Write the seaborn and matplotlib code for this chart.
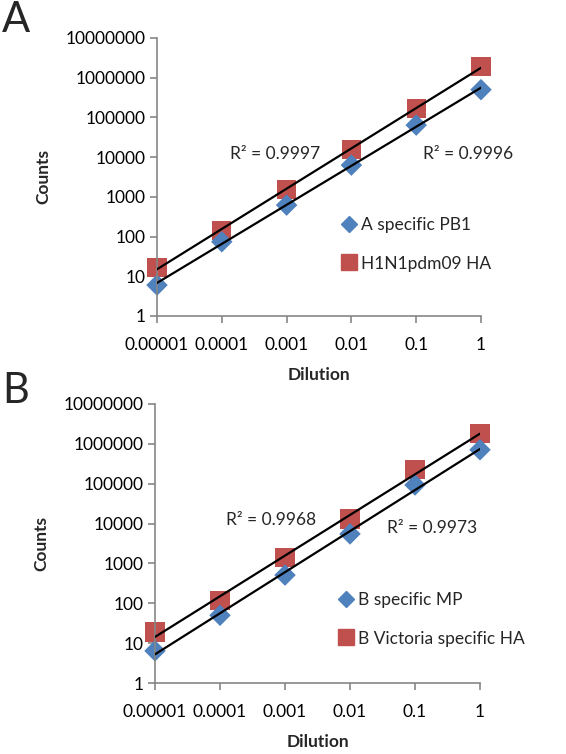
# qPCR-style dilution series, two panels, power trendlines
import numpy as np
import pandas as pd
import matplotlib
matplotlib.use("Agg")
import matplotlib.pyplot as plt
import seaborn as sns

dilution = [0.00001, 0.0001, 0.001, 0.01, 0.1, 1]
dilution_labels = ["0.00001", "0.0001", "0.001", "0.01", "0.1", "1"]
count_ticks = [1, 10, 100, 1000, 10000, 100000, 1000000, 10000000]

# panel A
a_pb1 = [6, 74, 620, 6300, 64000, 500000]
a_ha = [17, 145, 1500, 15500, 170000, 1950000]
a_names = ["A specific PB1", "H1N1pdm09 HA"]
a_r2 = ["0.9997", "0.9996"]

# panel B
b_mp = [6.4, 50, 510, 5500, 93000, 710000]
b_ha = [19, 120, 1400, 13000, 230000, 1800000]
b_names = ["B specific MP", "B Victoria specific HA"]
b_r2 = ["0.9968", "0.9973"]

blue = "#4F81BD"
red = "#C0504D"
axis_grey = "#868686"

sns.set_style("white")
plt.rcParams["font.family"] = ["Lato", "DejaVu Sans"]

fig = plt.figure(figsize=(5.66, 7.54), dpi=100)


def panel(rect, low, high, names, r2, r2_pos, leg_pos, letter, letter_pos):
    ax = fig.add_axes(rect)
    df = pd.DataFrame({"Dilution": dilution + dilution,
                       "Counts": low + high,
                       "series": [names[0]] * 6 + [names[1]] * 6})
    # trendlines (power fit = straight line in log-log)
    for vals in (low, high):
        k, b = np.polyfit(np.log10(dilution), np.log10(vals), 1)
        xs = np.array([dilution[0], dilution[-1]])
        ax.plot(xs, 10 ** (k * np.log10(xs) + b), color="black", lw=1.6, zorder=3)
    sns.scatterplot(data=df[df.series == names[0]], x="Dilution", y="Counts",
                    marker="D", s=120, color=blue, edgecolor="none",
                    ax=ax, zorder=2, clip_on=False, legend=False)
    sns.scatterplot(data=df[df.series == names[1]], x="Dilution", y="Counts",
                    marker="s", s=190, color=red, edgecolor="none",
                    ax=ax, zorder=1, clip_on=False, legend=False)
    ax.set_xscale("log")
    ax.set_yscale("log")
    ax.set_xlim(dilution[0], dilution[-1])
    ax.set_ylim(count_ticks[0], count_ticks[-1])
    ax.set_xticks(dilution, dilution_labels)
    ax.set_yticks(count_ticks, [str(v) for v in count_ticks])
    ax.minorticks_off()
    for side in ("top", "right"):
        ax.spines[side].set_visible(False)
    for side in ("left", "bottom"):
        ax.spines[side].set_color(axis_grey)
        ax.spines[side].set_linewidth(1.2)
    ax.tick_params(axis="both", which="major", direction="out", length=5,
                   width=1.2, color=axis_grey, labelsize=12.5, labelcolor="black",
                   left=True, bottom=True)
    ax.tick_params(axis="x", pad=10)
    ax.set_xlabel("Dilution", fontsize=12.5, fontweight="bold", labelpad=10)
    ax.set_ylabel("Counts", fontsize=12.5, fontweight="bold", labelpad=10)

    for txt, (px, py) in zip(r2, r2_pos):
        fig.text(px / 566, 1 - py / 754, "R\u00b2 = " + txt, fontsize=12.5,
                 va="center", ha="left")

    handles = [
        plt.Line2D([], [], marker="D", ls="", color=blue, markersize=8),
        plt.Line2D([], [], marker="s", ls="", color=red, markersize=12),
    ]
    ax.legend(handles, names, loc="upper left", frameon=False, fontsize=12.5,
              bbox_to_anchor=(leg_pos[0] / 566, 1 - leg_pos[1] / 754),
              bbox_transform=fig.transFigure, handletextpad=0.2,
              labelspacing=1.3, handlelength=1.0, borderaxespad=0)
    fig.text(letter_pos[0] / 566, 1 - letter_pos[1] / 754, letter,
             fontsize=30, va="center", ha="left")
    return ax


panel([157 / 566, 1 - 316 / 754, 324 / 566, 278 / 754], a_pb1, a_ha, a_names,
      a_r2, [(230, 154), (423, 154)], (333, 210), "A", (2, 20))
panel([155 / 566, 1 - 683 / 754, 325 / 566, 279 / 754], b_mp, b_ha, b_names,
      b_r2, [(226, 520), (387, 528)], (330, 585), "B", (2, 391))

fig.savefig("out.png", dpi=100)
